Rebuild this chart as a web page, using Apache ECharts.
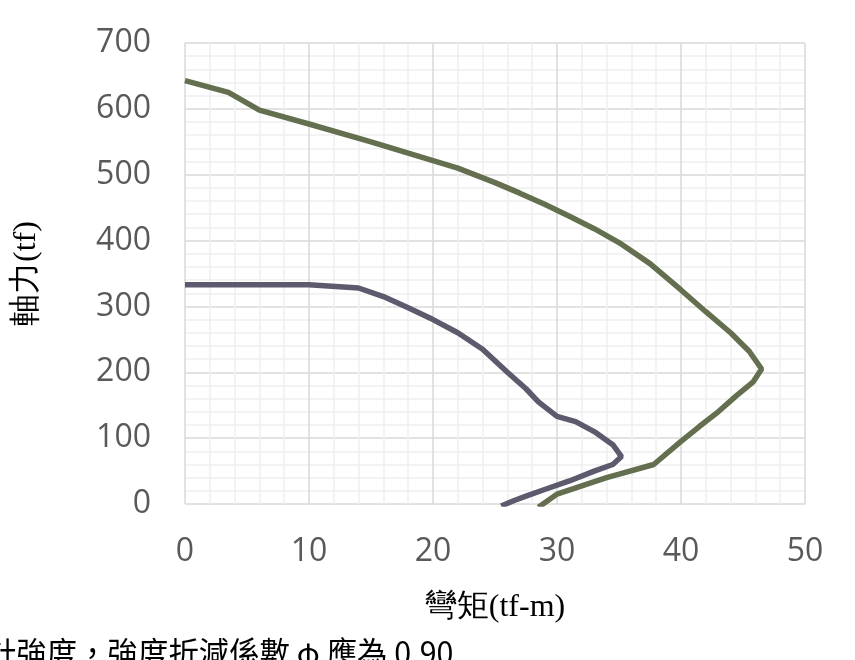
<!DOCTYPE html><html><head><meta charset="utf-8"><script src="https://cdn.jsdelivr.net/npm/echarts@6/dist/echarts.min.js"></script>
<style>body{margin:0;background:#fff}#c{width:855px;height:660px}#t{position:absolute;left:-14px;top:628px;font:32px "Noto Sans CJK TC";color:#000;white-space:nowrap;transform:scaleX(0.95);transform-origin:left}</style></head><body><div id="c"></div><div id="t">計強度，強度折減係數 φ 應為 0.90</div>
<script>
const outerM=[0,3.5,6,10,15,19,22,25,27,29,31,33,35,37.5,40,42,44,45.5,46.5,45.8,44.5,43,41.5,40,37.8,34,30,28.5];
const outerP=[643,625,598,577,550,527,510,488,472,455,437,418,397,365,325,292,260,232,205,185,165,140,118,95,60,40,15,-5];
const innerM=[0,10,14,16,18,20,22,24,26,27.5,28.5,30,31.5,33,34.5,35.2,34.5,33,31,29,27.5,26.5,25.5];
const innerP=[333,333,328,315,298,280,260,235,200,175,155,133,125,110,90,72,60,50,35,22,12,5,-3];
const xTicks=[0,10,20,30,40,50], yTicks=[0,100,200,300,400,500,600,700];
const ch=echarts.init(document.getElementById('c'));
const lbl={color:'#595959',fontSize:32,fontFamily:'Open Sans'};
ch.setOption({animation:false,
grid:{left:185,right:50,top:43,bottom:156},
xAxis:{type:'value',min:xTicks[0],max:xTicks[xTicks.length-1],interval:10,name:'彎矩(tf-m)',nameLocation:'middle',nameGap:88,nameTextStyle:{fontSize:32,fontFamily:'Liberation Serif, serif',color:'#000'},
 axisLine:{show:false},axisTick:{show:false},axisLabel:Object.assign({margin:32},lbl),
 splitLine:{lineStyle:{color:'#d9d9d9',width:1.5}},minorTick:{show:false,splitNumber:5},minorSplitLine:{show:true,lineStyle:{color:'#f0f0f0',width:1.5}}},
yAxis:{type:'value',min:yTicks[0],max:yTicks[yTicks.length-1],interval:100,name:'軸力(tf)',nameLocation:'middle',nameGap:142,nameTextStyle:{fontSize:32,fontFamily:'Liberation Serif, serif',color:'#000'},
 axisLine:{show:false},axisTick:{show:false},axisLabel:Object.assign({margin:34},lbl),
 splitLine:{lineStyle:{color:'#d9d9d9',width:1.5}},minorTick:{show:false,splitNumber:5},minorSplitLine:{show:true,lineStyle:{color:'#f0f0f0',width:1.5}}},
series:[
{type:'line',data:outerM.map((m,i)=>[m,outerP[i]]),showSymbol:false,lineStyle:{color:'#646F4F',width:5.5},clip:true},
{type:'line',data:innerM.map((m,i)=>[m,innerP[i]]),showSymbol:false,lineStyle:{color:'#5E5A6E',width:5.5},clip:true}]});
</script></body></html>
